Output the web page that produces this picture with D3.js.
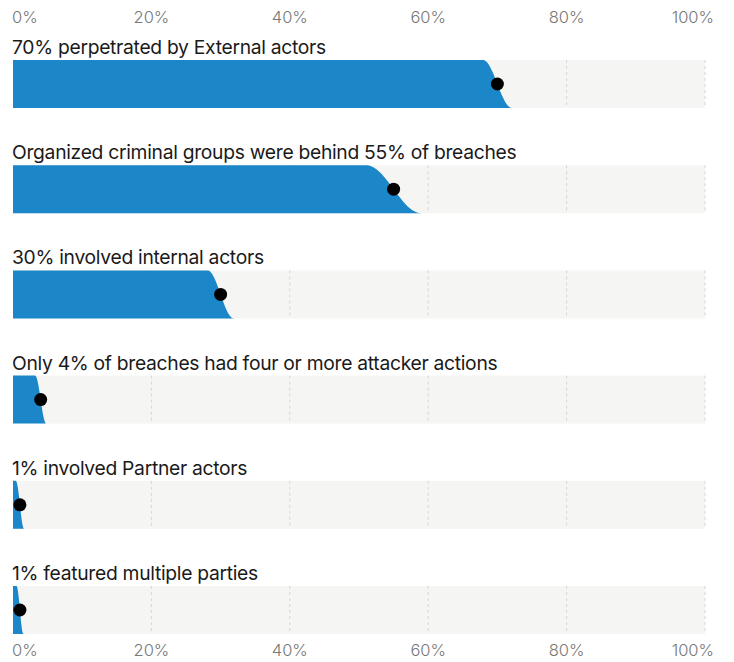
<!DOCTYPE html>
<html>
<head>
<meta charset="utf-8">
<script src="https://cdn.jsdelivr.net/npm/d3@7"></script>
<style>
  body { margin: 0; background: #fff; }
  svg { display: block; font-family: Inter, "Noto Sans", sans-serif; }
  .tick-label { fill: #777; font-size: 16.5px; font-weight: 300; }
  .row-label { fill: #1a1a1a; font-size: 19.3px; letter-spacing: -0.3px; }
</style>
</head>
<body>
<svg id="chart" width="734" height="662"></svg>
<script>
// row titles
var labels = [
  "70% perpetrated by External actors",
  "Organized criminal groups were behind 55% of breaches",
  "30% involved internal actors",
  "Only 4% of breaches had four or more attacker actions",
  "1% involved Partner actors",
  "1% featured multiple parties"
]
// point estimate (%)
var values = [70, 55, 30, 4, 1, 1]
// interval ends (%), used for the soft edge of the bar
var lows  = [67.9, 51, 28.1, 3.2, 0.4, 0.5]
var highs = [72.1, 59, 31.9, 4.8, 1.6, 1.5]
var ticks = [0, 20, 40, 60, 80, 100]

var svg = d3.select("#chart")
var left = 13, right = 705

var x = d3.scaleLinear().domain([0, 100]).range([left, right])
var y = d3.scaleBand()
    .domain(d3.range(labels.length))
    .range([60, 634])
    .paddingInner(0.544)
    .paddingOuter(0)

var bw = y.bandwidth()

// tick labels top and bottom
function tickAnchor(d, i){
  if (i == 0) return "start"
  if (i == ticks.length - 1) return "end"
  return "middle"
}
function tickX(d, i){
  if (i == 0) return x(d) - 1
  if (i == ticks.length - 1) return x(d) + 9
  return x(d)
}
;[23, 656].forEach(function(ty){
  svg.append("g").selectAll("text").data(ticks).enter()
    .append("text")
    .attr("class", "tick-label")
    .attr("x", tickX)
    .attr("y", ty)
    .attr("text-anchor", tickAnchor)
    .text(function(d){ return d + "%" })
})

var rows = svg.selectAll(".row").data(labels).enter()
  .append("g")
  .attr("class", "row")
  .attr("transform", function(d, i){ return "translate(0," + y(i) + ")" })

rows.append("text")
  .attr("class", "row-label")
  .attr("x", left - 1)
  .attr("y", -6)
  .text(function(d){ return d })

rows.append("rect")
  .attr("x", x(0))
  .attr("width", x(100) - x(0))
  .attr("height", bw)
  .attr("fill", "#f5f5f3")

rows.selectAll(".grid").data(ticks.slice(1)).enter()
  .append("line")
  .attr("class", "grid")
  .attr("x1", function(d){ return x(d) })
  .attr("x2", function(d){ return x(d) })
  .attr("y1", 0)
  .attr("y2", bw)
  .attr("stroke", "#d6d6d6")
  .attr("stroke-width", 1)
  .attr("stroke-dasharray", "3,3")

// bar with a soft s-shaped right edge running from low (top) to high (bottom)
var line = d3.line().x(function(p){ return p[0] }).y(function(p){ return p[1] })
rows.append("path")
  .attr("fill", "#1b87c8")
  .attr("d", function(d, i){
    var pts = [[x(0), 0]]
    var n = 40
    for (var k = 0; k <= n; k++){
      var u = k / n
      var t = 0.5 - 0.5 * Math.cos(Math.PI * u)
      pts.push([x(lows[i] + (highs[i] - lows[i]) * u), t * bw])
    }
    pts.push([x(0), bw])
    return line(pts) + "Z"
  })

rows.append("circle")
  .attr("cx", function(d, i){ return x(values[i]) })
  .attr("cy", bw / 2)
  .attr("r", 6.5)
  .attr("fill", "#000")
</script>
</body>
</html>
